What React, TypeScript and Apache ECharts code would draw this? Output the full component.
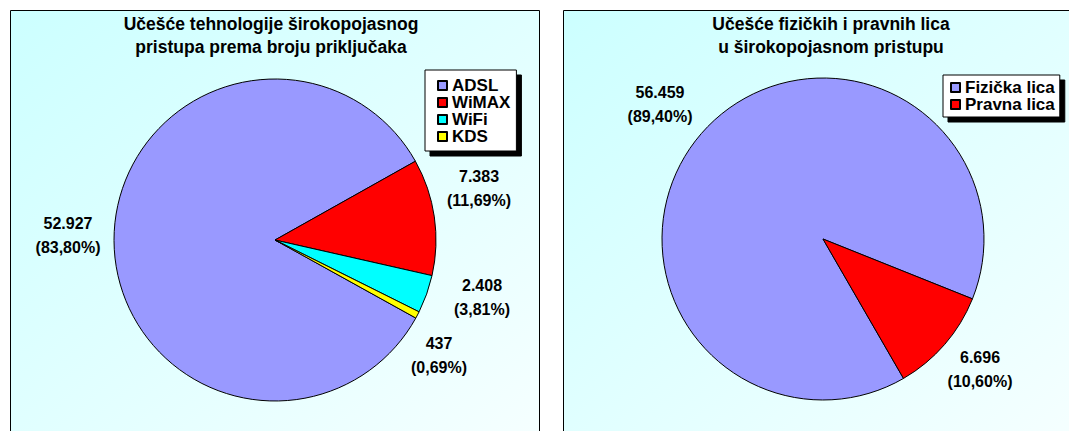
import React, { useEffect, useRef } from "react";
import * as echarts from "echarts";

const TECH_CATEGORIES = ["ADSL", "WiMAX", "WiFi", "KDS"];
const TECH_VALUES = [52927, 7383, 2408, 437];
const TECH_COLORS = ["#9999ff", "#ff0000", "#00ffff", "#ffff00"];

const PERSON_CATEGORIES = ["Fizička lica", "Pravna lica"];
const PERSON_VALUES = [56459, 6696];
const PERSON_COLORS = ["#9999ff", "#ff0000"];

const TITLE_LEFT = "Učešće tehnologije širokopojasnog\npristupa prema broju priključaka";
const TITLE_RIGHT = "Učešće fizičkih i pravnih lica\nu širokopojasnom pristupu";

// label anchor positions (layout only)
const LABEL_POS_LEFT = [[68, 235], [479, 188], [482, 297], [439, 355]];
const LABEL_POS_RIGHT = [[660, 104], [980, 369]];

const FONT = "'Liberation Sans', Arial, sans-serif";

function fmtThousands(v: number): string {
  return String(v).replace(/\B(?=(\d{3})+(?!\d))/g, ".");
}

function makeFormatter(values: number[]) {
  const total = values.reduce((a, b) => a + b, 0);
  return (p: any): string =>
    fmtThousands(p.value) + "\n(" + ((p.value / total) * 100).toFixed(2).replace(".", ",") + "%)";
}

export default function App() {
  const ref = useRef<HTMLDivElement>(null);
  useEffect(() => {
    if (!ref.current) return;
    const chart = echarts.init(ref.current, undefined, { renderer: "svg" });
    const panelFill = () =>
      new echarts.graphic.LinearGradient(0, 0, 1, 1, [
        { offset: 0, color: "#ccffff" },
        { offset: 1, color: "#f6ffff" },
      ]);
    const labelStyle = (values: number[]) => ({
      show: true,
      position: "outside" as const,
      formatter: makeFormatter(values),
      color: "#000",
      fontFamily: FONT,
      fontWeight: "bold" as const,
      fontSize: 16,
      lineHeight: 24,
      align: "center" as const,
    });
    const legendBase = {
      orient: "vertical" as const,
      backgroundColor: "#fff",
      borderColor: "#000",
      borderWidth: 1,
      borderRadius: 0,
      shadowColor: "#000",
      shadowBlur: 0,
      shadowOffsetX: 5,
      shadowOffsetY: 5,
      itemWidth: 9,
      itemHeight: 9,
      itemGap: 0,
      icon: "rect",
      selectedMode: false,
      textStyle: {
        fontFamily: FONT,
        fontWeight: "bold" as const,
        fontSize: 17,
        lineHeight: 15,
        color: "#000",
      },
    };
    const titleStyle = { fontFamily: FONT, fontWeight: "bold", fontSize: 17.5, lineHeight: 23, color: "#000" };
    chart.setOption({
      animation: false,
      graphic: [
        {
          type: "rect",
          z: 0,
          shape: { x: 10.5, y: 10.5, width: 529, height: 440 },
          style: { fill: panelFill(), stroke: "#000", lineWidth: 1 },
        },
        {
          type: "rect",
          z: 0,
          shape: { x: 563.5, y: 10.5, width: 520, height: 440 },
          style: { fill: panelFill(), stroke: "#000", lineWidth: 1 },
        },
      ],
      title: [
        { text: TITLE_LEFT, left: 266, top: 7, textAlign: "center", textStyle: titleStyle },
        { text: TITLE_RIGHT, left: 826, top: 7, textAlign: "center", textStyle: titleStyle },
      ],
      legend: [
        {
          ...legendBase,
          data: TECH_CATEGORIES,
          left: 425,
          top: 70,
          padding: [7, 6, 6, 12],
        },
        {
          ...legendBase,
          data: PERSON_CATEGORIES,
          left: 943,
          top: 75,
          padding: [4, 5, 4, 7],
        },
      ],
      series: [
        {
          type: "pie",
          center: [275, 240],
          radius: 161,
          startAngle: -29,
          clockwise: true,
          avoidLabelOverlap: false,
          itemStyle: { borderColor: "#000", borderWidth: 1 },
          label: labelStyle(TECH_VALUES),
          labelLine: { show: false },
          labelLayout: (p: any) => ({
            x: LABEL_POS_LEFT[p.dataIndex][0],
            y: LABEL_POS_LEFT[p.dataIndex][1],
            align: "center",
            verticalAlign: "middle",
          }),
          emphasis: { disabled: true },
          data: TECH_CATEGORIES.map((name, i) => ({
            name,
            value: TECH_VALUES[i],
            itemStyle: { color: TECH_COLORS[i] },
          })),
        },
        {
          type: "pie",
          center: [823, 239],
          radius: 161,
          startAngle: -60,
          clockwise: true,
          avoidLabelOverlap: false,
          itemStyle: { borderColor: "#000", borderWidth: 1 },
          label: labelStyle(PERSON_VALUES),
          labelLine: { show: false },
          labelLayout: (p: any) => ({
            x: LABEL_POS_RIGHT[p.dataIndex][0],
            y: LABEL_POS_RIGHT[p.dataIndex][1],
            align: "center",
            verticalAlign: "middle",
          }),
          emphasis: { disabled: true },
          data: PERSON_CATEGORIES.map((name, i) => ({
            name,
            value: PERSON_VALUES[i],
            itemStyle: { color: PERSON_COLORS[i] },
          })),
        },
      ],
    });
    return () => chart.dispose();
  }, []);
  return (
    <div
      ref={ref}
      style={{ position: "absolute", left: 0, top: 0, width: 1069, height: 431 }}
    />
  );
}
